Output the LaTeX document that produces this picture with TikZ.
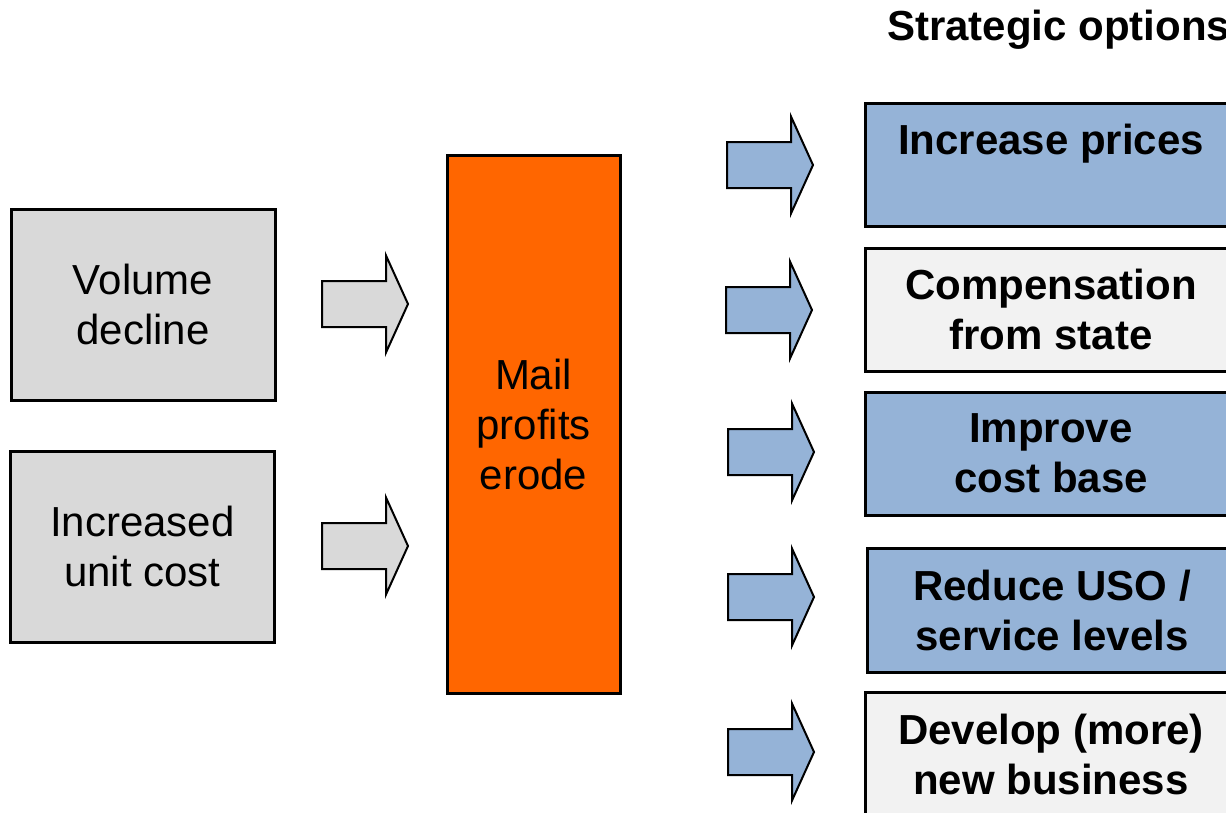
\documentclass[tikz,border=0pt]{standalone}
\usepackage{fontspec}
\setmainfont{Liberation Sans}
\definecolor{boxgray}{HTML}{D9D9D9}
\definecolor{boxlight}{HTML}{F2F2F2}
\definecolor{boxblue}{HTML}{95B3D7}
\definecolor{boxorange}{HTML}{FF6600}
\tikzset{
  bigtext/.style={font=\fontsize{42}{50}\selectfont, align=center, inner sep=0pt},
  box/.style={draw=black, line width=3pt, rectangle, bigtext},
  leftbox/.style={box, fill=boxgray, minimum width=264pt, minimum height=191pt},
  optbox/.style={box, font=\fontsize{42}{50}\selectfont\bfseries, minimum width=372pt, minimum height=123pt},
  blockarrow/.pic={\draw[pic actions] (0,-23) -- (64,-23) -- (64,-48.5) -- (86,0) -- (64,48.5) -- (64,23) -- (0,23) -- cycle;},
  grayarrow/.style={fill=boxgray, draw=black, line width=2pt, line join=miter},
  bluearrow/.style={fill=boxblue, draw=black, line width=2pt, line join=miter},
}
\begin{document}
\begin{tikzpicture}[x=1pt,y=-1pt]
\useasboundingbox (0,0) rectangle (1226,812);
\clip (0,0) rectangle (1226,812);
% title
\node[anchor=base west, inner sep=0pt, font=\fontsize{42}{50}\selectfont\bfseries] (title) at (887,40) {Strategic options};
% left boxes
\node[leftbox] (vol) at (143,304.5) {Volume\\decline};
\node[leftbox] (cost) at (142.5,546.5) {Increased\\unit cost};
% centre box
\node[box, fill=boxorange, minimum width=173pt, minimum height=538pt] (mail) at (533.5,424) {Mail\\profits\\erode};
% gray arrows
\pic[grayarrow] (ga1) at (322,304) {blockarrow};
\pic[grayarrow] (ga2) at (322,546) {blockarrow};
% blue arrows
\pic[bluearrow] (ba1) at (727,165) {blockarrow};
\pic[bluearrow] (ba2) at (726,310) {blockarrow};
\pic[bluearrow] (ba3) at (728,452) {blockarrow};
\pic[bluearrow] (ba4) at (728,597) {blockarrow};
\pic[bluearrow] (ba5) at (728,752) {blockarrow};
% option boxes
\node[optbox, fill=boxblue] (o1) at (1051,164.5) {Increase prices\\\mbox{}};
\node[optbox, fill=boxlight] (o2) at (1051,309.5) {Compensation\\from state};
\node[optbox, fill=boxblue] (o3) at (1051,453.5) {Improve\\cost base};
\node[optbox, fill=boxblue, minimum width=370pt, minimum height=124pt] (o4) at (1052,610) {Reduce USO /\\service levels};
\node[optbox, fill=boxlight, minimum height=124pt] (o5) at (1051,754) {Develop (more)\\new business};
\end{tikzpicture}
\end{document}
